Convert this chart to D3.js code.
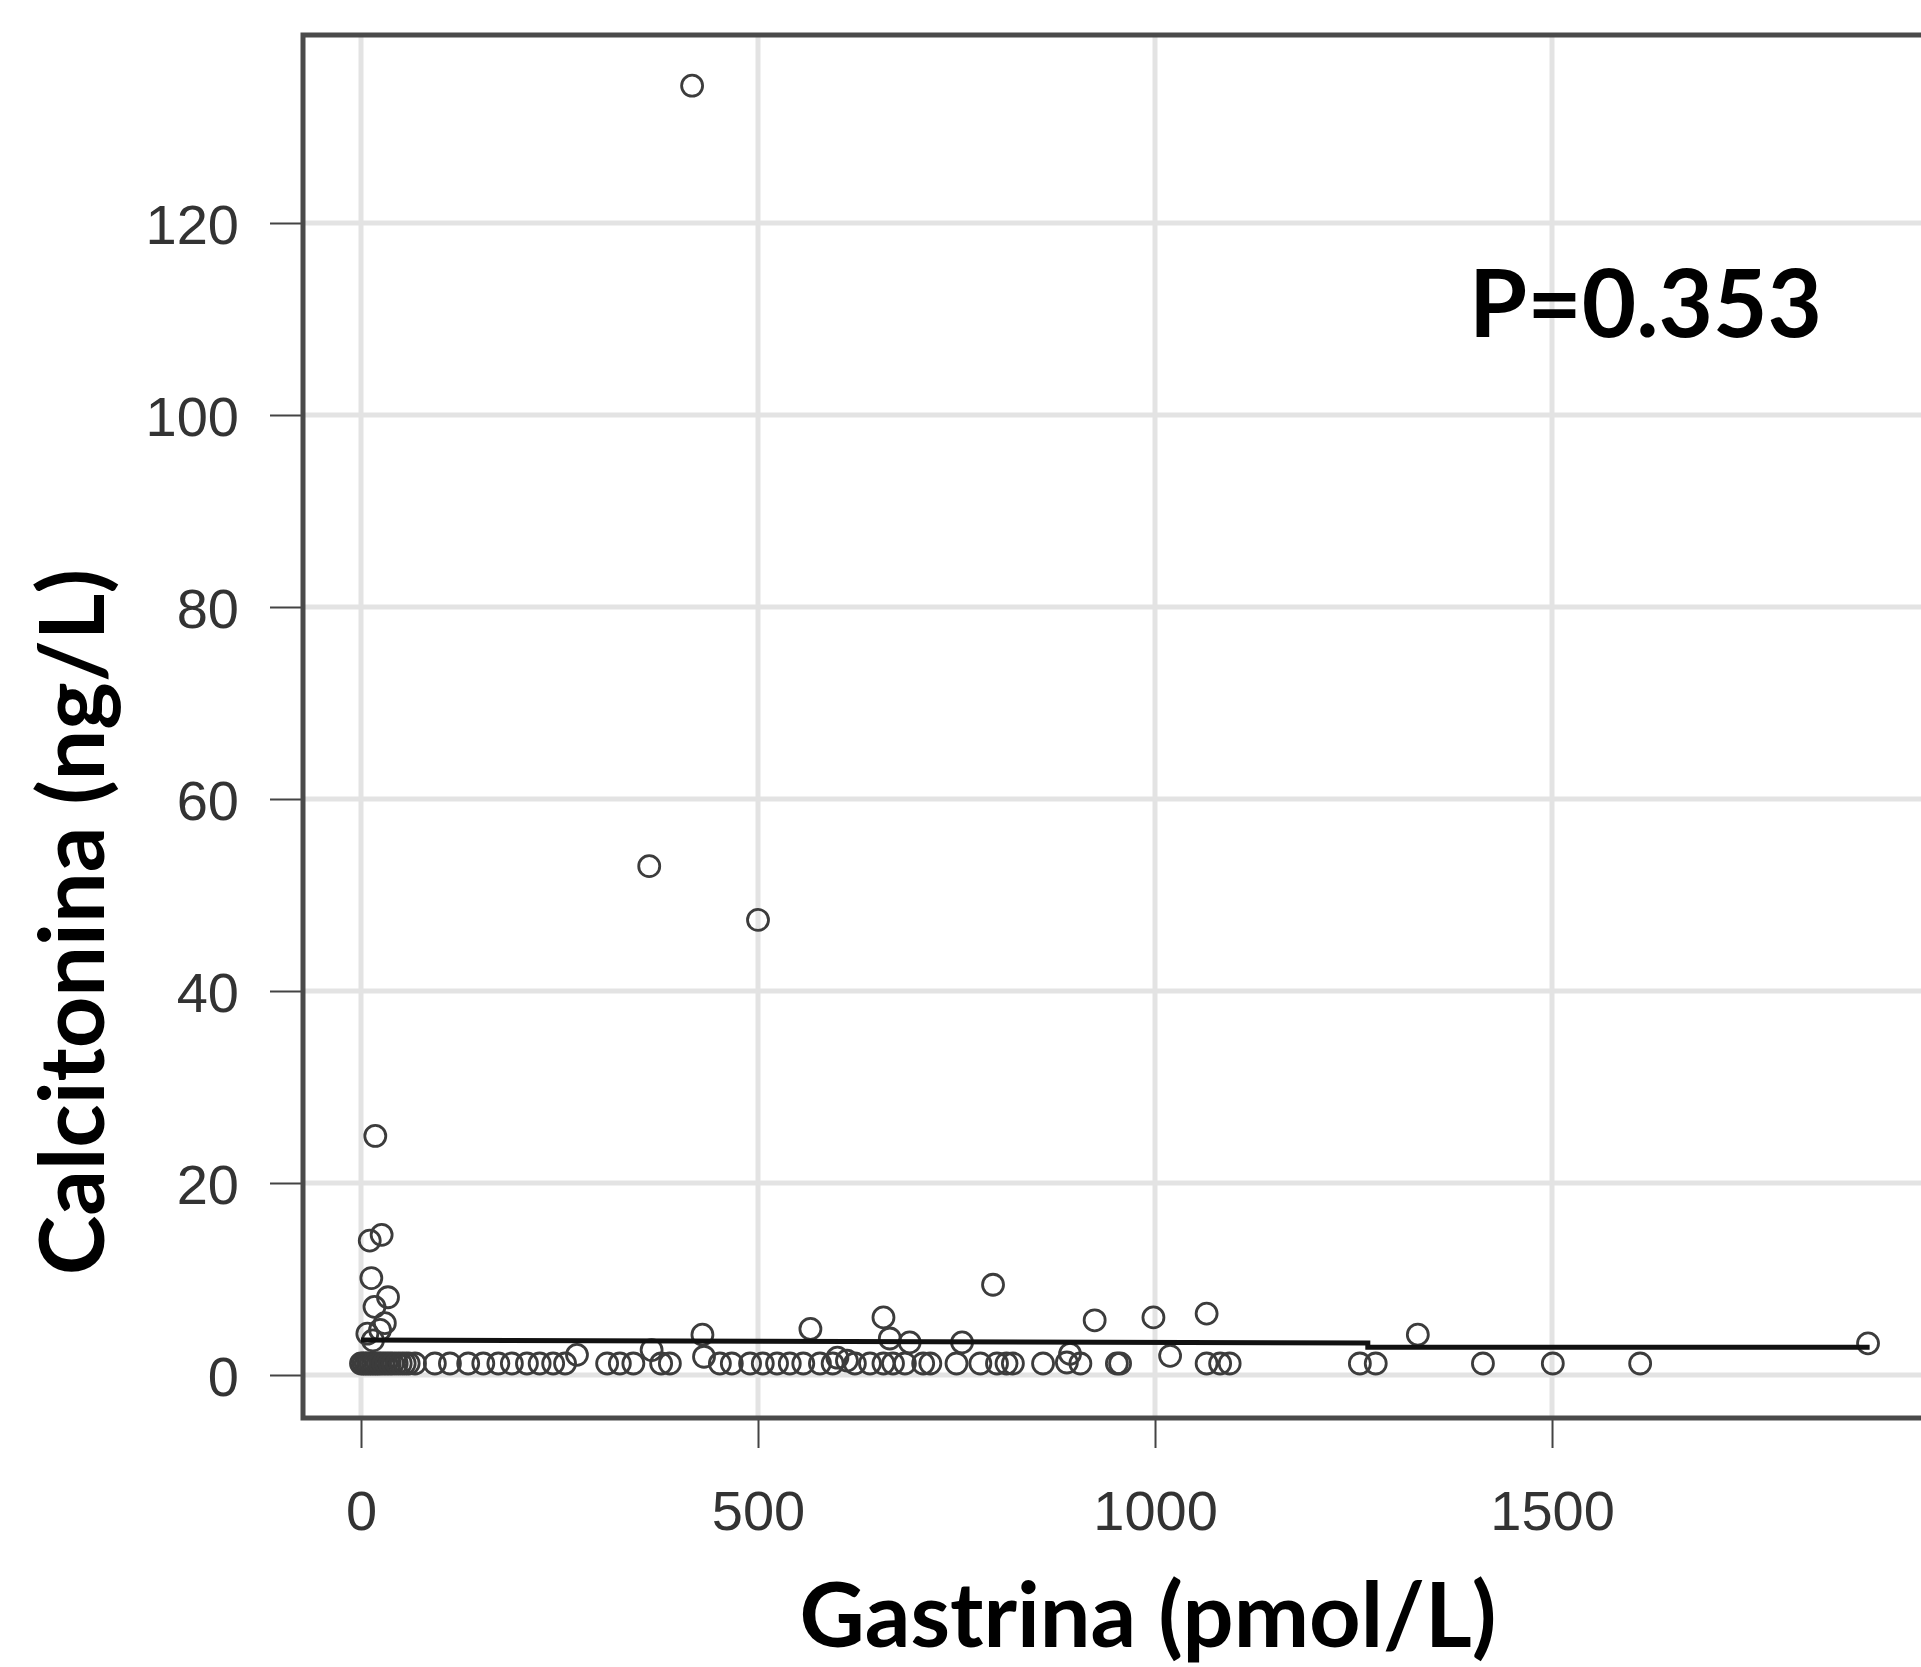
<!DOCTYPE html>
<html>
<head>
<meta charset="utf-8">
<script src="https://cdn.jsdelivr.net/npm/d3@7"></script>
<style>
  body { margin: 0; background: #ffffff; }
  svg { display: block; }
</style>
</head>
<body>
<script>
// Gastrina (x) and Calcitonina (y)
var gastrina = [
  0, 3, 6, 9, 12, 15, 18, 21, 24, 28, 32, 36, 40, 45, 50, 55, 60, 68,
  93, 112, 135, 154, 173, 190, 209, 225, 242, 257, 310, 326, 343, 378, 389,
  452, 467, 490, 506, 524, 540, 557, 578, 594, 600, 612, 622, 641, 658, 670,
  685, 708, 717, 750, 780, 801, 813, 821, 859, 889, 906, 952, 956, 1065,
  1082, 1094, 1258, 1278, 1413, 1501, 1611,
  417, 363, 500, 18, 11, 26, 13, 34, 17, 30, 8, 24, 15, 430, 432, 272, 366,
  566, 658, 666, 691, 757, 796, 893, 924, 998, 1019, 1065, 1331, 1898
];
var calcitonina = [
  1.2, 1.2, 1.2, 1.2, 1.2, 1.2, 1.2, 1.2, 1.2, 1.2, 1.2, 1.2, 1.2, 1.2, 1.2, 1.2, 1.2, 1.2,
  1.2, 1.2, 1.2, 1.2, 1.2, 1.2, 1.2, 1.2, 1.2, 1.2, 1.2, 1.2, 1.2, 1.2, 1.2,
  1.2, 1.2, 1.2, 1.2, 1.2, 1.2, 1.2, 1.2, 1.2, 1.8, 1.5, 1.2, 1.2, 1.2, 1.2,
  1.2, 1.2, 1.2, 1.2, 1.2, 1.2, 1.2, 1.2, 1.2, 1.3, 1.2, 1.2, 1.2, 1.2,
  1.2, 1.2, 1.2, 1.2, 1.2, 1.2, 1.2,
  134.3, 53.0, 47.4, 24.9, 14.0, 14.6, 10.1, 8.1, 7.1, 5.4, 4.3, 4.7, 3.6, 4.2, 1.9, 2.1, 2.6,
  4.8, 6.0, 3.8, 3.4, 3.4, 9.4, 2.2, 5.7, 6.0, 2.0, 6.4, 4.2, 3.3
];

// fitted line (two flat pieces)
var fitX = [0, 1268, 1268, 1900];
var fitY = [3.65, 3.33, 2.9, 2.9];

var xTicks = [0, 500, 1000, 1500];
var yTicks = [0, 20, 40, 60, 80, 100, 120];

var xTitle = "Gastrina (pmol/L)";
var yTitle = "Calcitonina (ng/L)";
var pLabel = "P=0.353";

// SVG area
var svgWidth = 1921;
var svgHeight = 1667;

// plot box
var box = { left: 303, top: 35, right: 1931, bottom: 1418 };

var svg = d3.select("body")
            .append("svg")
            .attr("width", svgWidth)
            .attr("height", svgHeight);

// scales
var x = d3.scaleLinear()
          .domain([-73.05, 1977.3])
          .range([box.left, box.right]);

var y = d3.scaleLinear()
          .domain([-4.479, 139.583])
          .range([box.bottom, box.top]);

// grid lines
var grid = svg.append("g");

grid.selectAll(".vgrid")
    .data(xTicks)
    .enter()
    .append("line")
    .attr("x1", d => x(d))
    .attr("x2", d => x(d))
    .attr("y1", box.top)
    .attr("y2", box.bottom)
    .style("stroke", "#e3e3e3")
    .style("stroke-width", 5);

grid.selectAll(".hgrid")
    .data(yTicks)
    .enter()
    .append("line")
    .attr("x1", box.left)
    .attr("x2", box.right)
    .attr("y1", d => y(d))
    .attr("y2", d => y(d))
    .style("stroke", "#e3e3e3")
    .style("stroke-width", 5);

// axes
var yAxis = svg.append("g")
               .attr("transform", `translate(${box.left},0)`)
               .call(d3.axisLeft(y).tickValues(yTicks).tickSize(33).tickPadding(31)
                       .tickFormat(d3.format("d")));

var xAxis = svg.append("g")
               .attr("transform", `translate(0,${box.bottom})`)
               .call(d3.axisBottom(x).tickValues(xTicks).tickSize(30).tickPadding(42)
                       .tickFormat(d3.format("d")));

[xAxis, yAxis].forEach(function(ax) {
  ax.select(".domain").remove();
  ax.selectAll("line").style("stroke", "#444").style("stroke-width", 2);
  ax.selectAll("text")
    .style("font-family", "'Liberation Sans', Arial, sans-serif")
    .style("font-size", "56px")
    .style("fill", "#333");
});
yAxis.selectAll("text").attr("dy", "0.37em");

// box round the plot
svg.append("rect")
   .attr("x", box.left)
   .attr("y", box.top)
   .attr("width", box.right - box.left + 20)
   .attr("height", box.bottom - box.top)
   .style("fill", "none")
   .style("stroke", "#4a4a4a")
   .style("stroke-width", 5);

// points
svg.append("g")
   .selectAll("circle")
   .data(gastrina.map((g, i) => [g, calcitonina[i]]))
   .enter()
   .append("circle")
   .attr("cx", d => x(d[0]))
   .attr("cy", d => y(d[1]))
   .attr("r", 10.5)
   .style("fill", "none")
   .style("stroke", "#3c3c3c")
   .style("stroke-width", 2.8);

// fitted line
var line = d3.line()
             .x(d => x(d[0]))
             .y(d => y(d[1]));

svg.append("path")
   .datum(fitX.map((g, i) => [g, fitY[i]]))
   .attr("d", line)
   .style("fill", "none")
   .style("stroke", "#111")
   .style("stroke-width", 5);

// titles
var titleFont = "Lato, 'Open Sans', sans-serif";

svg.append("text")
   .attr("x", 1148)
   .attr("y", 1647)
   .attr("text-anchor", "middle")
   .style("font-family", titleFont)
   .style("font-weight", "bold")
   .style("font-size", "90px")
   .text(xTitle);

svg.append("text")
   .attr("transform", "translate(104,922) rotate(-90)")
   .attr("text-anchor", "middle")
   .style("font-family", titleFont)
   .style("font-weight", "bold")
   .style("font-size", "90px")
   .text(yTitle);

svg.append("text")
   .attr("x", 1469)
   .attr("y", 337)
   .style("font-family", titleFont)
   .style("font-weight", "bold")
   .style("font-size", "94px")
   .text(pLabel);
</script>
</body>
</html>
